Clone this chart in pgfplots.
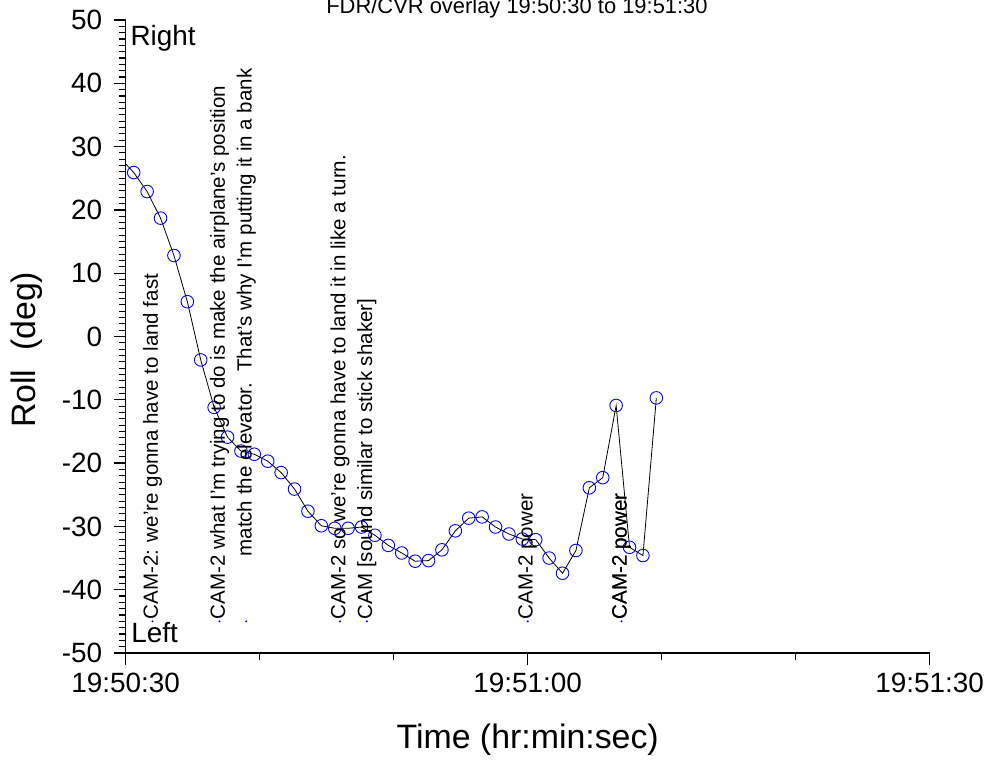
\documentclass[border=0pt]{standalone}
\usepackage{pgfplots}
\pgfplotsset{compat=1.18}
\usepackage{fontspec}
\setmainfont{Liberation Sans}
\definecolor{mblue}{RGB}{0,0,255}
\pgfplotstableread{
t roll
-0.4 28.2
0.6 25.9
1.6 22.9
2.6 18.7
3.6 12.8
4.6 5.5
5.6 -3.7
6.6 -11.2
7.6 -15.9
8.6 -18.1
9.6 -18.6
10.6 -19.7
11.6 -21.5
12.6 -24.1
13.6 -27.6
14.6 -29.9
15.6 -30.3
16.6 -30.3
17.6 -30.1
18.6 -31.4
19.6 -33.0
20.6 -34.2
21.6 -35.5
22.6 -35.4
23.6 -33.7
24.6 -30.7
25.6 -28.7
26.6 -28.5
27.6 -30.1
28.6 -31.2
29.6 -32.0
30.6 -32.1
31.6 -35.0
32.6 -37.4
33.6 -33.8
34.6 -23.9
35.6 -22.3
36.6 -10.9
37.6 -33.3
38.6 -34.6
39.6 -9.7
}\rolldata
\pgfplotstableread{
t roll
2 -45
7 -45
9 -45
16 -45
18 -45
30 -45
37 -45
}\notedata
\begin{document}
\begin{tikzpicture}
\begin{axis}[
  scale only axis,
  width=804bp, height=633bp,
  xmin=0, xmax=60, ymin=-50, ymax=50,
  axis x line*=bottom, axis y line*=left,
  axis line style={-, line width=1.5bp, black},
  xtick={0,30,60},
  xticklabels={19:50:30,19:51:00,19:51:30},
  minor xtick={10,20,40,50},
  ytick={-50,-40,-30,-20,-10,0,10,20,30,40,50},
  yticklabels={-50,-40,-30,-20,-10,0,10,20,30,40,50},
  minor y tick num=9,
  tick align=outside,
  major tick length=12bp,
  minor tick length=7bp,
  every major tick/.append style={line width=1.3bp, black},
  every minor tick/.append style={line width=1.1bp, black},
  ticklabel style={font=\fontsize{28}{30}\selectfont},
  xticklabel style={yshift=-4bp},
  yticklabel style={xshift=-8bp},
  title={FDR/CVR overlay 19:50:30 to 19:51:30},
  title style={font=\fontsize{22}{24}\selectfont, at={(axis description cs:0.4867,1)}, anchor=base, yshift=1bp},
  xlabel={Time (hr:min:sec)},
  xlabel style={font=\fontsize{34}{36}\selectfont, at={(axis description cs:0.5,0)}, anchor=base, yshift=-95bp},
  ylabel={Roll\ \ (deg)},
  every axis y label/.style={at={(axis description cs:-0.1228,0.479)}, anchor=center, rotate=90, font=\fontsize{34}{36}\selectfont},
  clip marker paths=true,
]
\addplot[black, line width=0.8bp, mark=o, mark size=6.3bp,
  mark options={draw=mblue, fill=white, line width=0.9bp}] table[x=t,y=roll]{\rolldata};
\addplot[only marks, mark=*, mark size=0.8bp, mblue] table[x=t,y=roll]{\notedata};
\coordinate (origin) at (rel axis cs:0,0);
\tikzset{ann/.style={rotate=90, anchor=west, inner ysep=0pt, inner xsep=2bp, font=\fontsize{20.6}{23}\selectfont}}
\node[ann] at (axis cs:2,-45) {CAM-2: we're gonna have to land fast};
\node[ann] at (axis cs:7,-45) {CAM-2 what I'm trying to do is make the airplane's position};
\node[ann] at (axis cs:9,-35.1) {match the elevator.\ \ That's why I'm putting it in a bank};
\node[ann] at (axis cs:16,-45) {CAM-2 so we're gonna have to land it in like a turn.};
\node[ann] at (axis cs:18,-45) {CAM [sound similar to stick shaker]};
\node[ann] at (axis cs:30,-45) {CAM-2 power};
\node[ann] at (axis cs:37,-45) {CAM-2 power};
\node[ann] at (axis cs:37,-45) {CAM-2 power};
\node[anchor=base west, inner sep=0pt, font=\fontsize{28}{30}\selectfont] at (axis cs:0.35,46.0) {Right};
\node[anchor=base west, inner sep=0pt, font=\fontsize{28}{30}\selectfont] at (axis cs:0.4,-48.3) {Left};
\end{axis}
\pgfresetboundingbox
\path[use as bounding box] ([shift={(-125.7bp,-109bp)}]origin) rectangle ([shift={(864.3bp,653bp)}]origin);
\end{tikzpicture}
\end{document}
